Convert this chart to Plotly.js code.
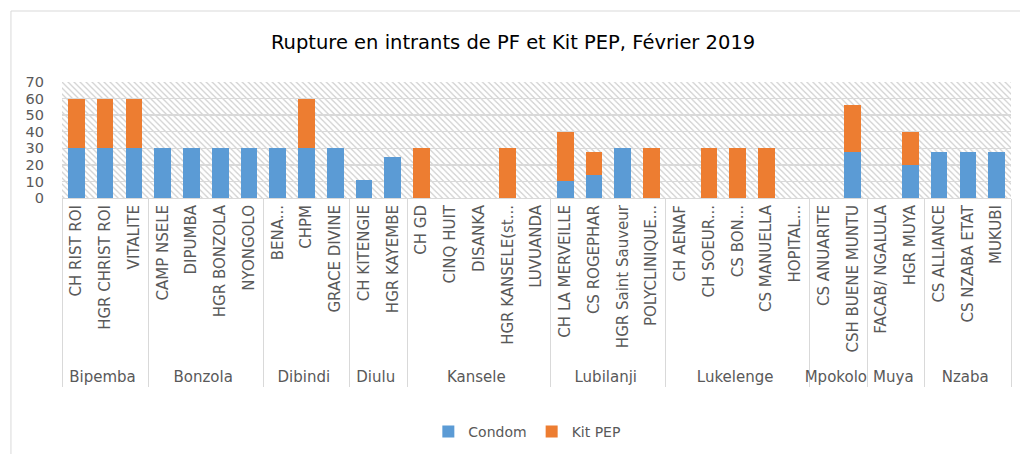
<!DOCTYPE html>
<html>
<head>
<meta charset="utf-8">
<script src="https://cdn.plot.ly/plotly-3.0.1.min.js"></script>
<style>
html,body{margin:0;padding:0;background:#fff;}
#chart{width:1020px;height:454px;}
</style>
</head>
<body>
<div id="chart"></div>
<script>
const districts = ["Bipemba","Bipemba","Bipemba",
  "Bonzola","Bonzola","Bonzola","Bonzola",
  "Dibindi","Dibindi","Dibindi",
  "Diulu","Diulu",
  "Kansele","Kansele","Kansele","Kansele","Kansele",
  "Lubilanji","Lubilanji","Lubilanji","Lubilanji",
  "Lukelenge","Lukelenge","Lukelenge","Lukelenge","Lukelenge",
  "Mpokolo","Mpokolo",
  "Muya","Muya",
  "Nzaba","Nzaba","Nzaba"];
const sites = ["CH RIST ROI","HGR CHRIST ROI","VITALITE",
  "CAMP NSELE","DIPUMBA","HGR BONZOLA","NYONGOLO",
  "BENA...","CHPM","GRACE DIVINE",
  "CH KITENGIE","HGR KAYEMBE",
  "CH GD","CINQ HUIT","DISANKA","HGR KANSELE(st...","LUVUANDA",
  "CH LA MERVEILLE","CS ROGEPHAR","HGR Saint Sauveur","POLYCLINIQUE...",
  "CH AENAF","CH SOEUR...","CS BON...","CS MANUELLA","HOPITAL...",
  "CS ANUARITE","CSH BUENE MUNTU",
  "FACAB/ NGALULA","HGR MUYA",
  "CS ALLIANCE","CS NZABA ETAT","MUKUBI"];
const condom = [30,30,30, 30,30,30,30, 30,30,30, 11,25, 0,0,0,0,0, 10,14,30,0, 0,0,0,0,0, 0,28, 0,20, 28,28,28];
const kitPEP = [30,30,30, 0,0,0,0, 0,30,0, 0,0, 30,0,0,30,0, 30,14,0,30, 0,30,30,30,0, 0,28, 0,20, 0,0,0];
</script>
<script>
const FONT = "'DejaVu Sans', 'Open Sans', sans-serif";
const x = [districts, sites];
const hatch = 'data:image/svg+xml;utf8,' + encodeURIComponent(
 '<svg xmlns="http://www.w3.org/2000/svg" width="948" height="116" viewBox="0 0 948 116" preserveAspectRatio="none">' +
 '<defs><pattern id="p" width="6" height="6" patternUnits="userSpaceOnUse">' +
 '<path d="M-1,-1 L7,7 M-1,5 L1,7 M5,-1 L7,1" stroke="#d4d4d4" stroke-width="1.3"/></pattern></defs>' +
 '<rect width="948" height="116" fill="#fff"/><rect width="948" height="116" fill="url(#p)"/></svg>');

const traces = [
  {type:'bar', name:'Condom', x:x, y:condom, marker:{color:'#5B9BD5', line:{width:0}}},
  {type:'bar', name:'Kit PEP', x:x, y:kitPEP, marker:{color:'#ED7D31', line:{width:0}}}
];
const layout = {
  width:1020, height:454,
  margin:{l:62, r:9, t:82, b:256},
  barmode:'stack', bargap:0.42,
  paper_bgcolor:'#fff', plot_bgcolor:'rgba(0,0,0,0)',
  font:{family:FONT, color:'#595959'},
  title:{text:'Rupture en intrants de PF et Kit PEP, Février 2019', x:0.503, xref:'container', xanchor:'center', y:1-42/454, yref:'container', yanchor:'middle', font:{family:FONT, size:19.5, color:'#000'}},
  xaxis:{type:'multicategory', tickangle:-90, tickfont:{size:15, color:'#595959'}, ticks:'outside', ticklen:5, tickcolor:'rgba(0,0,0,0)', showline:true, linecolor:'#d9d9d9', linewidth:1, showgrid:false, showdividers:true, dividercolor:'#d9d9d9', dividerwidth:1, fixedrange:true, automargin:false},
  yaxis:{range:[0,70], dtick:10, tickfont:{size:14.5, color:'#595959'}, gridcolor:'#d9d9d9', gridwidth:1.3, showline:false, zeroline:false, ticklabelstandoff:17, fixedrange:true, automargin:false},
  legend:{orientation:'h', x:0.517, xref:'container', xanchor:'center', y:1-432/454, yref:'container', yanchor:'middle', font:{size:14, color:'#595959'}, traceorder:'normal', bgcolor:'rgba(0,0,0,0)'},
  images:[{source:hatch, xref:'paper', yref:'paper', x:0, y:1, sizex:1, sizey:1, xanchor:'left', yanchor:'top', sizing:'stretch', layer:'below'}],
  shapes:[{type:'rect', xref:'paper', yref:'paper', x0:(11-62)/948, x1:(1040-62)/948, y0:(198-11)/116, y1:(198-480)/116, line:{color:'#d9d9d9', width:1}, fillcolor:'rgba(0,0,0,0)', layer:'below'}],
  showlegend:true
};
Plotly.newPlot('chart', traces, layout, {displayModeBar:false, staticPlot:true});
</script>
</body>
</html>
